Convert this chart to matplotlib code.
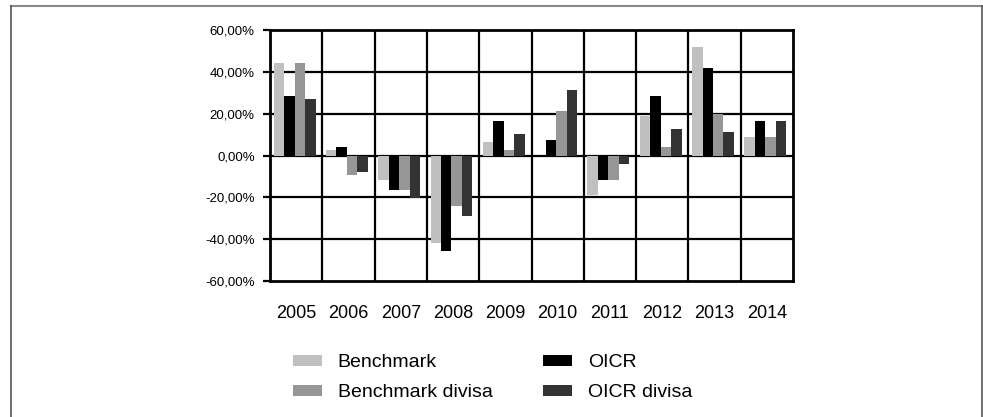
import numpy as np
import matplotlib
matplotlib.use("Agg")
import matplotlib.pyplot as plt
from matplotlib.lines import Line2D
from matplotlib.patches import Patch

plt.rcParams['font.family'] = ['Liberation Sans', 'DejaVu Sans']

years = ["2005", "2006", "2007", "2008", "2009", "2010", "2011", "2012", "2013", "2014"]
benchmark = [44.2, 2.8, -11.8, -41.9, 6.5, 0.0, -19.1, 18.8, 51.8, 9.0]
oicr = [28.4, 4.1, -16.7, -45.5, 16.3, 7.6, -11.5, 28.4, 41.9, 16.3]
benchmark_div = [44.2, -9.1, -16.7, -24.3, 2.8, 21.5, -11.5, 4.1, 20.0, 9.0]
oicr_div = [27.1, -7.8, -20.4, -29.1, 10.1, 31.1, -3.9, 12.6, 11.4, 16.3]
yticks = [-60, -40, -20, 0, 20, 40, 60]
ytick_labels = ["-60,00%", "-40,00%", "-20,00%", "0,00%", "20,00%", "40,00%", "60,00%"]

series = [("Benchmark", benchmark, "#c0c0c0"),
          ("OICR", oicr, "#000000"),
          ("Benchmark divisa", benchmark_div, "#969696"),
          ("OICR divisa", oicr_div, "#333333")]

W, H = 983, 417
fig = plt.figure(figsize=(W / 100, H / 100), dpi=100)
ax = fig.add_axes([270 / W, 1 - 281 / H, (793 - 270) / W, (281 - 30) / H])

x = np.arange(len(years))
width = 0.2
shift = -0.03
handles = {}
for i, (name, vals, col) in enumerate(series):
    ax.bar(x + shift + (i - 1.5) * width, vals, width, color=col, zorder=3)
    handles[name] = Patch(facecolor=col)

ax.set_xlim(-0.5, len(years) - 0.5)
ax.set_ylim(-60, 60)
ax.set_yticks(yticks)
ax.set_yticklabels(ytick_labels, fontsize=9.5)
ax.set_xticks(x)
ax.set_xticklabels(years, fontsize=13)
ax.tick_params(axis='x', length=0, pad=17)
ax.tick_params(axis='y', length=5, width=1.6, pad=6, direction='out')

for v in yticks[1:-1]:
    ax.axhline(v, color='black', lw=1.6, zorder=2)
for v in np.arange(0.5, len(years) - 0.5, 1.0):
    ax.axvline(v, color='black', lw=1.6, zorder=2)
for s in ax.spines.values():
    s.set_linewidth(2.0)
    s.set_color('black')

order = ["Benchmark", "Benchmark divisa", "OICR", "OICR divisa"]
fig.legend([handles[n] for n in order], order, ncol=2, frameon=False,
           loc='upper left', bbox_to_anchor=(293 / W, 1 - 354 / H),
           borderpad=0, borderaxespad=0, fontsize=14,
           handlelength=1.5, handleheight=0.5, handletextpad=0.8,
           columnspacing=2.6, labelspacing=0.68)

# outer frame
fig.add_artist(Line2D([11 / W, 982 / W], [1 - 6 / H, 1 - 6 / H], transform=fig.transFigure, color='#888888', lw=1.5))
fig.add_artist(Line2D([11 / W, 11 / W], [0, 1 - 6 / H], transform=fig.transFigure, color='#555555', lw=1.2))
fig.add_artist(Line2D([982 / W, 982 / W], [0, 1 - 6 / H], transform=fig.transFigure, color='#555555', lw=1.2))

fig.savefig("out.png", dpi=100)
